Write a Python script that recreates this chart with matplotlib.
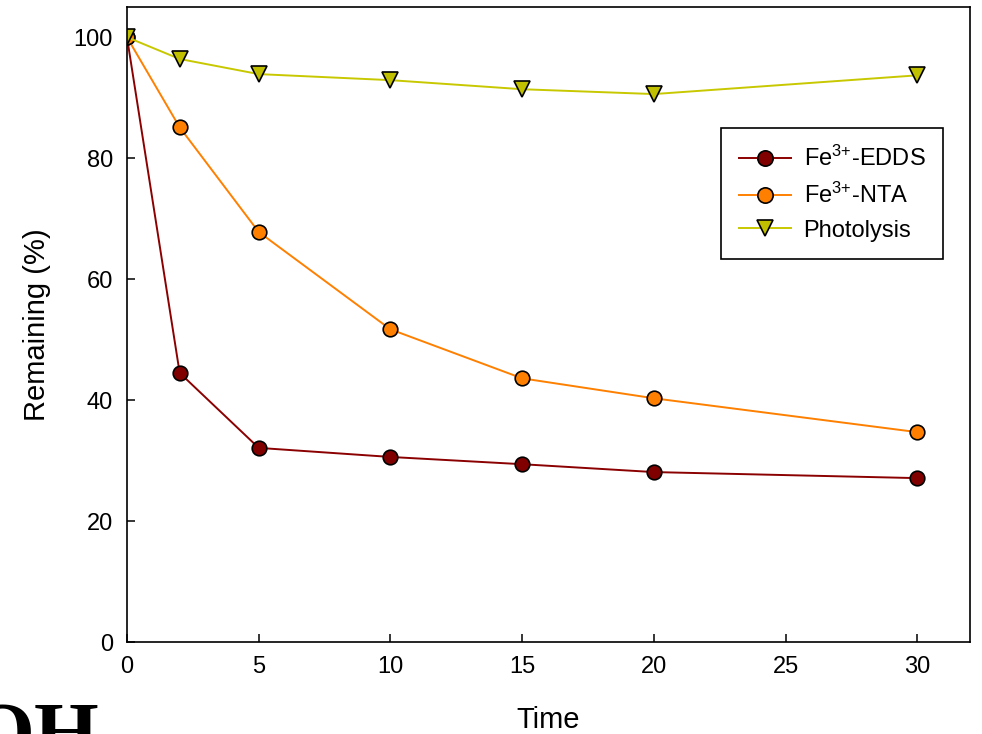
import matplotlib
matplotlib.use("Agg")
import matplotlib.pyplot as plt

plt.rcParams['font.family'] = ['Liberation Sans', 'DejaVu Sans']
plt.rcParams['mathtext.fontset'] = 'custom'
plt.rcParams['mathtext.rm'] = 'Liberation Sans'
plt.rcParams['mathtext.default'] = 'regular'

# data
time = [0, 2, 5, 10, 15, 20, 30]
edds = [100, 44.5, 32.1, 30.6, 29.4, 28.1, 27.1]
nta = [100, 85.1, 67.8, 51.7, 43.6, 40.3, 34.7]
photolysis = [100, 96.4, 93.9, 92.9, 91.4, 90.6, 93.7]
series_names = ["Fe$^{3{+}}$-EDDS", "Fe$^{3{+}}$-NTA", "Photolysis"]
x_ticks = [0, 5, 10, 15, 20, 25, 30]
y_ticks = [0, 20, 40, 60, 80, 100]

fig = plt.figure(figsize=(9.82, 7.34), dpi=100)
ax = fig.add_axes([0.1293, 0.1253, 0.8585, 0.8652])

ax.plot(time, edds, color="#8B0000", lw=1.4, marker="o", markersize=10.5,
        markerfacecolor="#800000", markeredgecolor="black", markeredgewidth=1.2,
        label=series_names[0])
ax.plot(time, nta, color="#FF8000", lw=1.4, marker="o", markersize=10.5,
        markerfacecolor="#FF8000", markeredgecolor="black", markeredgewidth=1.2,
        label=series_names[1])
ax.plot(time, photolysis, color="#C8C800", lw=1.4, marker="v", markersize=11.5,
        markerfacecolor="#C0C000", markeredgecolor="black", markeredgewidth=1.2,
        label=series_names[2])

ax.set_xlim(0, 32)
ax.set_ylim(0, 105)
ax.set_xticks(x_ticks)
ax.set_yticks(y_ticks)
ax.tick_params(direction="in", length=6, width=1.1, labelsize=17, pad=10,
               top=False, right=False)
for s in ax.spines.values():
    s.set_linewidth(1.2)

ax.set_xlabel("Time", fontsize=21, labelpad=20)
ax.set_ylabel("Remaining (%)", fontsize=21, labelpad=16)

leg = ax.legend(loc="upper right", bbox_to_anchor=(0.968, 0.8094), fontsize=17,
                fancybox=False, framealpha=1, edgecolor="black",
                handlelength=2.2, handletextpad=0.55, borderpad=0.75,
                labelspacing=0.5, borderaxespad=0, markerscale=1.05)
leg.get_frame().set_linewidth(1.2)

# stray fragment of a label visible at the bottom left of the original
fig.text(-30 / 982, -0.034, "OH", fontsize=60, fontweight="bold",
         family="Liberation Serif", va="baseline", ha="left")

fig.savefig("out.png", dpi=100)
